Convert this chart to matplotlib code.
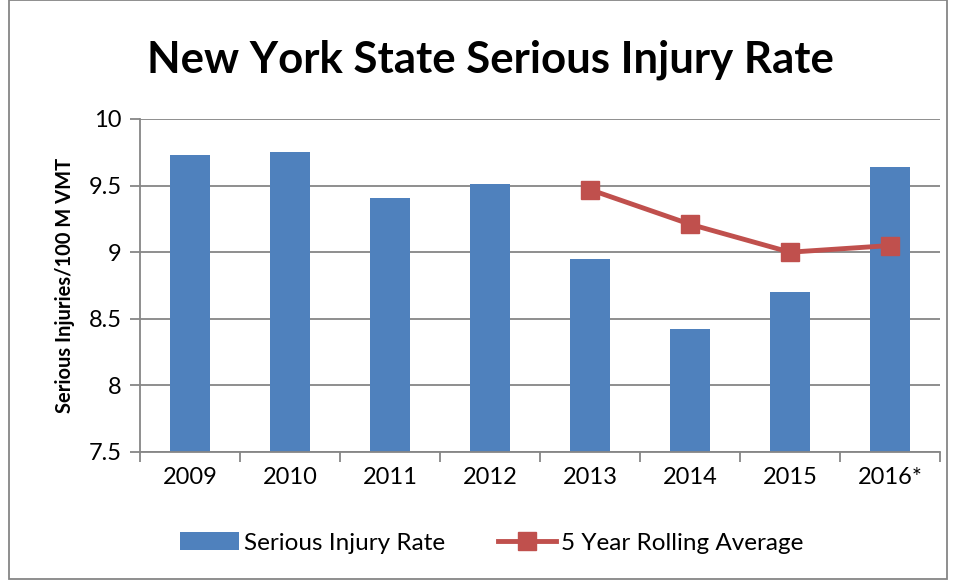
import matplotlib
matplotlib.use("Agg")
import matplotlib.pyplot as plt
from matplotlib.patches import Rectangle
import numpy as np

years = ["2009", "2010", "2011", "2012", "2013", "2014", "2015", "2016*"]
injury_rate = [9.73, 9.75, 9.41, 9.51, 8.95, 8.42, 8.70, 9.64]
rolling_years_idx = [4, 5, 6, 7]
rolling_avg = [9.47, 9.21, 9.00, 9.05]

plt.rcParams['font.family'] = ['Lato', 'DejaVu Sans']

fig = plt.figure(figsize=(9.56, 5.81), dpi=100)
W, H = 956, 581
ax = fig.add_axes([140 / W, 1 - 452 / H, 800 / W, 333 / H])

x = np.arange(len(years))
bars = ax.bar(x, injury_rate, width=0.4, color="#4F81BD", zorder=2,
              label="Serious Injury Rate")
line, = ax.plot(rolling_years_idx, rolling_avg, color="#C0504D", lw=3.5, marker="s",
                markersize=13, zorder=3, label="5 Year Rolling Average")

ax.set_xlim(-0.5, len(years) - 0.5)
ax.set_ylim(7.5, 10)
ax.set_yticks([7.5, 8, 8.5, 9, 9.5, 10])
ax.set_yticklabels(["7.5", "8", "8.5", "9", "9.5", "10"])
ax.set_xticks(x)
ax.set_xticklabels(years)
ax.set_xticks(np.arange(-0.5, len(years)), minor=True)
ax.tick_params(axis="x", which="major", length=0, labelsize=17, pad=11)
ax.tick_params(axis="x", which="minor", length=7, color="#868686", width=1.3)
ax.tick_params(axis="y", length=7, color="#868686", width=1.3, labelsize=17, pad=6)
ax.yaxis.grid(True, color="#868686", lw=1.3, zorder=0)
ax.set_axisbelow(True)
for s in ["top", "right"]:
    ax.spines[s].set_visible(False)
for s in ["left", "bottom"]:
    ax.spines[s].set_color("#868686")
    ax.spines[s].set_linewidth(1.3)

ax.set_ylabel("Serious Injuries/100 M VMT", fontsize=14.5, fontweight="bold", labelpad=10)

fig.text(490 / W, 1 - 60 / H, "New York State Serious Injury Rate", ha="center",
         va="center", fontsize=31.5, fontweight="bold")

leg = fig.legend([bars, line], ["Serious Injury Rate", "5 Year Rolling Average"],
                 loc="center", bbox_to_anchor=(492 / W, 1 - 543 / H), ncol=2,
                 frameon=False, fontsize=17.5, handlelength=2.4, columnspacing=2.2,
                 handletextpad=0.2)

fig.add_artist(Rectangle((9 / W, 2 / H), (W - 18) / W, (H - 2) / H,
                         transform=fig.transFigure, fill=False,
                         edgecolor="#868686", lw=1.3))

fig.savefig("out.png", dpi=100)
